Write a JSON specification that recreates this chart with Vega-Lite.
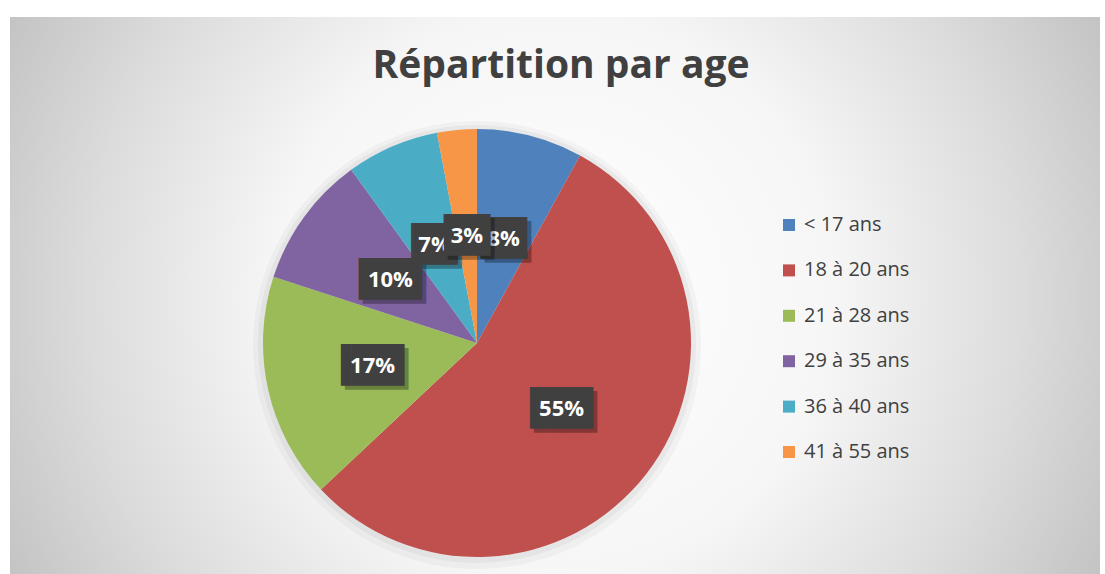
{
  "$schema": "https://vega.github.io/schema/vega-lite/v6.json",
  "width": 1090,
  "height": 557,
  "autosize": {"type": "none"},
  "padding": {"left": 10, "top": 17, "right": 5, "bottom": 0},
  "background": "#ffffff",
  "config": {"view": {"stroke": "#c6c6c6", "strokeWidth": 1}},
  "title": {
    "text": "Répartition par age",
    "font": "Open Sans",
    "fontSize": 39,
    "fontWeight": "bold",
    "color": "#404040",
    "anchor": "middle",
    "baseline": "alphabetic",
    "offset": -100,
    "dx": 6
  },
  "data": {
    "values": [
      {"tranche": "< 17 ans", "part": 0.08, "n": 1},
      {"tranche": "18 à 20 ans", "part": 0.55, "n": 2},
      {"tranche": "21 à 28 ans", "part": 0.17, "n": 3},
      {"tranche": "29 à 35 ans", "part": 0.10, "n": 4},
      {"tranche": "36 à 40 ans", "part": 0.07, "n": 5},
      {"tranche": "41 à 55 ans", "part": 0.03, "n": 6}
    ]
  },
  "layer": [
    {
      "data": {"values": [{}]},
      "mark": {
        "type": "rect",
        "fill": {
          "gradient": "radial",
          "x1": 0.5, "y1": 0.5, "r1": 0,
          "x2": 0.5, "y2": 0.5, "r2": 0.57,
          "stops": [
            {"offset": 0, "color": "#ffffff"},
            {"offset": 0.45, "color": "#f6f6f6"},
            {"offset": 0.75, "color": "#dcdcdc"},
            {"offset": 1, "color": "#c2c2c2"}
          ]
        }
      },
      "encoding": {}
    },
    {
      "data": {"values": [{}]},
      "mark": {"type": "arc", "outerRadius": 224, "x": 467, "y": 328, "color": "#000000", "opacity": 0.03},
      "encoding": {}
    },
    {
      "data": {"values": [{}]},
      "mark": {"type": "arc", "outerRadius": 219, "x": 467, "y": 327, "color": "#000000", "opacity": 0.04},
      "encoding": {}
    },
    {
      "mark": {"type": "arc", "outerRadius": 214, "x": 467, "y": 326, "stroke": null},
      "encoding": {
        "theta": {"field": "part", "type": "quantitative", "stack": true},
        "order": {"field": "n", "type": "quantitative"},
        "color": {
          "field": "tranche",
          "type": "nominal",
          "sort": ["< 17 ans", "18 à 20 ans", "21 à 28 ans", "29 à 35 ans", "36 à 40 ans", "41 à 55 ans"],
          "scale": {
            "domain": ["< 17 ans", "18 à 20 ans", "21 à 28 ans", "29 à 35 ans", "36 à 40 ans", "41 à 55 ans"],
            "range": ["#4f81bd", "#c0504d", "#9bbb59", "#8064a2", "#4bacc6", "#f79646"]
          },
          "legend": {
            "title": null,
            "orient": "none",
            "legendX": 769,
            "legendY": 198,
            "symbolType": "square",
            "symbolSize": 144,
            "symbolStrokeWidth": 0,
            "symbolOpacity": 1,
            "labelFont": "Open Sans",
            "labelFontSize": 20,
            "labelColor": "#404040",
            "labelOffset": 5,
            "rowPadding": 25.4,
            "padding": 0
          }
        }
      }
    },
    {
      "mark": {"type": "text", "font": "DejaVu Sans Mono", "fontSize": 35, "radius": 107, "x": 467, "y": 326, "dx": 4, "dy": 4, "color": "#000000"},
      "encoding": {
        "theta": {"field": "part", "type": "quantitative", "stack": true},
        "order": {"field": "n", "type": "quantitative"},
        "text": {"condition": {"test": "datum.part >= 0.1", "value": "▐██▌"}, "value": "▕██▏"},
        "opacity": {"condition": {"test": "datum.n != 6", "value": 0.3}, "value": 0}
      }
    },
    {
      "mark": {"type": "text", "font": "DejaVu Sans Mono", "fontSize": 35, "radius": 107, "x": 467, "y": 326, "color": "#404040"},
      "encoding": {
        "theta": {"field": "part", "type": "quantitative", "stack": true},
        "order": {"field": "n", "type": "quantitative"},
        "text": {"condition": {"test": "datum.part >= 0.1", "value": "▐██▌"}, "value": "▕██▏"},
        "opacity": {"condition": {"test": "datum.n != 6", "value": 1}, "value": 0}
      }
    },
    {
      "mark": {"type": "text", "font": "Open Sans", "fontSize": 22, "fontWeight": "bold", "radius": 107, "x": 467, "y": 326, "color": "#ffffff"},
      "encoding": {
        "theta": {"field": "part", "type": "quantitative", "stack": true},
        "order": {"field": "n", "type": "quantitative"},
        "text": {"field": "part", "type": "quantitative", "format": ".0%"},
        "opacity": {"condition": {"test": "datum.n != 6", "value": 1}, "value": 0}
      }
    },
    {
      "mark": {"type": "text", "font": "DejaVu Sans Mono", "fontSize": 35, "radius": 107, "x": 467, "y": 326, "dx": 4, "dy": 4, "color": "#000000"},
      "encoding": {
        "theta": {"field": "part", "type": "quantitative", "stack": true},
        "order": {"field": "n", "type": "quantitative"},
        "text": {"condition": {"test": "datum.part >= 0.1", "value": "▐██▌"}, "value": "▕██▏"},
        "opacity": {"condition": {"test": "datum.n == 6", "value": 0.3}, "value": 0}
      }
    },
    {
      "mark": {"type": "text", "font": "DejaVu Sans Mono", "fontSize": 35, "radius": 107, "x": 467, "y": 326, "color": "#404040"},
      "encoding": {
        "theta": {"field": "part", "type": "quantitative", "stack": true},
        "order": {"field": "n", "type": "quantitative"},
        "text": {"condition": {"test": "datum.part >= 0.1", "value": "▐██▌"}, "value": "▕██▏"},
        "opacity": {"condition": {"test": "datum.n == 6", "value": 1}, "value": 0}
      }
    },
    {
      "mark": {"type": "text", "font": "Open Sans", "fontSize": 22, "fontWeight": "bold", "radius": 107, "x": 467, "y": 326, "color": "#ffffff"},
      "encoding": {
        "theta": {"field": "part", "type": "quantitative", "stack": true},
        "order": {"field": "n", "type": "quantitative"},
        "text": {"field": "part", "type": "quantitative", "format": ".0%"},
        "opacity": {"condition": {"test": "datum.n == 6", "value": 1}, "value": 0}
      }
    }
  ]
}
